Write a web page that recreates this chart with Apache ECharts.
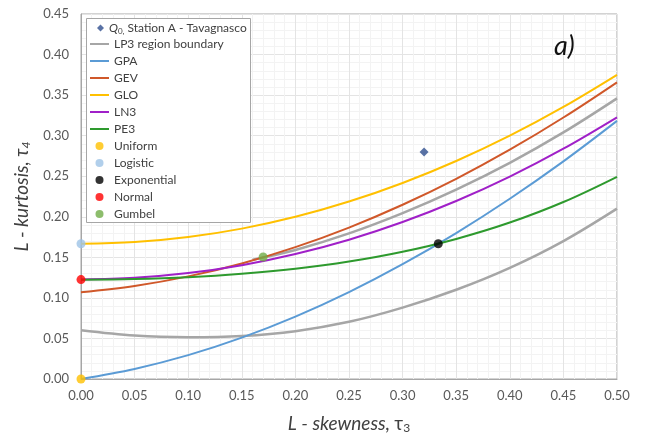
<!DOCTYPE html>
<html><head><meta charset="utf-8">
<script src="https://cdn.jsdelivr.net/npm/echarts@6/dist/echarts.min.js"></script>
<style>html,body{margin:0;padding:0;background:#fff}#c{width:646px;height:439px}</style>
</head><body><div id="c"></div>
<script>
// ---- data ----
const tau3 = [0, 0.05, 0.10, 0.15, 0.20, 0.25, 0.30, 0.35, 0.40, 0.45, 0.50];
const gpa = [0, 0.0124, 0.0294, 0.0510, 0.0769, 0.1071, 0.1415, 0.1799, 0.2222, 0.2683, 0.3182];
const gev = [0.1070, 0.1147, 0.1265, 0.1425, 0.1626, 0.1867, 0.2148, 0.2468, 0.2827, 0.3224, 0.3658];
const glo = [0.1667, 0.1688, 0.1750, 0.1854, 0.2000, 0.2188, 0.2417, 0.2688, 0.3000, 0.3354, 0.3750];
const ln3 = [0.1228, 0.1248, 0.1306, 0.1403, 0.1540, 0.1717, 0.1935, 0.2194, 0.2495, 0.2839, 0.3226];
const pe3 = [0.1224, 0.1232, 0.1255, 0.1297, 0.1359, 0.1448, 0.1569, 0.1727, 0.1929, 0.2182, 0.2493];
const lp3UpperX = [0.16, 0.20, 0.25, 0.30, 0.35, 0.40, 0.45, 0.50];
const lp3Upper = [0.1470, 0.1590, 0.1795, 0.2045, 0.2335, 0.2665, 0.3040, 0.3460];
const lp3Lower = [0.0600, 0.0535, 0.0515, 0.0530, 0.0590, 0.0705, 0.0880, 0.1100, 0.1370, 0.1700, 0.2100];
const station = [0.32, 0.28];
const uniform = [0, 0];
const logistic = [0, 0.1667];
const exponential = [0.3333, 0.1667];
const normal = [0, 0.1226];
const gumbel = [0.1699, 0.1504];
const xTicks = [0, 0.5, 0.05];
const yTicks = [0, 0.45, 0.05];
const legendNames = ['LP3 region boundary', 'GPA', 'GEV', 'GLO', 'LN3', 'PE3', 'Uniform', 'Logistic', 'Exponential', 'Normal', 'Gumbel'];
const lineNames = ['LP3 region boundary', 'GPA', 'GEV', 'GLO', 'LN3', 'PE3'];

const zip = (xs, ys) => xs.map((x, i) => [x, ys[i]]);
const FONT = 'Lato';
const LINE_ICON = 'path://M0,0 L22,0 L22,2.3 L0,2.3 Z';
const TXT = '#404040';

function line(name, xs, ys, color, w) {
  return { name, type: 'line', data: zip(xs, ys), smooth: 0.35, symbol: 'none',
    lineStyle: { color, width: w || 2 }, itemStyle: { color }, z: 2 };
}
function pt(name, p, color, sym, size) {
  return { name, type: 'scatter', data: [p], symbol: sym || 'circle', symbolSize: size || 9,
    itemStyle: { color }, z: 5 };
}

const legendText = { color: TXT, fontSize: 12, fontFamily: FONT, lineHeight: 14 };

const chart = echarts.init(document.getElementById('c'), null, { renderer: 'canvas' });
chart.setOption({
  animation: false,
  textStyle: { fontFamily: FONT },
  grid: { left: 81, right: 29, top: 14, bottom: 59, show: true, borderColor: '#a6a6a6', borderWidth: 1, backgroundColor: 'transparent' },
  xAxis: {
    type: 'value', min: xTicks[0], max: xTicks[1], interval: xTicks[2],
    axisLine: { show: true, lineStyle: { color: '#a6a6a6' } }, axisTick: { show: false },
    axisLabel: { color: '#595959', fontSize: 13, margin: 10, formatter: v => v.toFixed(2) },
    splitLine: { show: true, lineStyle: { color: '#e4e4e4' } },
    minorTick: { show: false, splitNumber: 5 },
    minorSplitLine: { show: true, lineStyle: { color: '#f3f3f3' } },
    name: '{i|L - skewness, }{t|τ}{s|3}', nameLocation: 'middle', nameGap: 34,
    nameTextStyle: { rich: {
      i: { fontStyle: 'italic', fontSize: 19, color: TXT, fontFamily: FONT },
      t: { fontSize: 19, color: TXT, fontFamily: FONT },
      s: { fontSize: 12, color: TXT, fontFamily: FONT, verticalAlign: 'bottom', padding: [9, 0, 0, 0] } } }
  },
  yAxis: {
    type: 'value', min: yTicks[0], max: yTicks[1], interval: yTicks[2],
    axisLine: { show: true, lineStyle: { color: '#a6a6a6' } }, axisTick: { show: false },
    axisLabel: { color: '#595959', fontSize: 13, margin: 12, formatter: v => v.toFixed(2) },
    splitLine: { show: true, lineStyle: { color: '#e4e4e4' } },
    minorTick: { show: false, splitNumber: 5 },
    minorSplitLine: { show: true, lineStyle: { color: '#f3f3f3' } },
    name: '{i|L - kurtosis, τ}{s|4}', nameLocation: 'middle', nameGap: 42, nameRotate: 90,
    nameTextStyle: { rich: {
      i: { fontStyle: 'italic', fontSize: 19, color: TXT, fontFamily: FONT },
      s: { fontStyle: 'italic', fontSize: 12, color: TXT, fontFamily: FONT, verticalAlign: 'bottom', padding: [9, 0, 0, 0] } } }
  },
  legend: [
    {
      orient: 'vertical', left: 97, top: 21, itemWidth: 7, itemHeight: 7, padding: 0,
      textStyle: Object.assign({}, legendText, { rich: {
        q: { fontStyle: 'italic', fontSize: 12, color: TXT, fontFamily: FONT },
        sub: { fontSize: 8, color: TXT, fontFamily: FONT, verticalAlign: 'bottom', padding: [6, 0, 0, 0] },
        n: { fontSize: 12, color: TXT, fontFamily: FONT } } }),
      formatter: () => '{q|Q}{sub|0,}{n| Station A - Tavagnasco}',
      data: [{ name: 'Q0 Station', icon: 'diamond' }]
    },
    {
      orient: 'vertical', left: 90, top: 37, itemGap: 3, itemWidth: 19, itemHeight: 8, padding: 0,
      textStyle: legendText,
      data: legendNames.map(n => ({ name: n, icon: lineNames.includes(n) ? LINE_ICON : 'circle' }))
    }
  ],
  graphic: [
    { type: 'rect', z: 3, shape: { x: 86.5, y: 18.5, width: 164, height: 204 },
      style: { fill: '#ffffff', stroke: '#a6a6a6', lineWidth: 1 } },
    { type: 'text', left: 554, top: 33, z: 3, style: { text: 'a)', font: 'italic 27px Lato', fill: '#111111' } }
  ],
  series: [
    pt('Q0 Station', station, '#2f4f8f', 'diamond', 9),
    line('LP3 region boundary', lp3UpperX, lp3Upper, '#a6a6a6', 2.5),
    line('LP3 region boundary', tau3, lp3Lower, '#a6a6a6', 2.5),
    line('GPA', tau3, gpa, '#5b9bd5'),
    line('GEV', tau3, gev, '#d0582a'),
    line('GLO', tau3, glo, '#ffc000'),
    line('LN3', tau3, ln3, '#a020c8'),
    line('PE3', tau3, pe3, '#2e9a2e'),
    pt('Uniform', uniform, '#ffc000'),
    pt('Logistic', logistic, '#9dc3e6'),
    pt('Exponential', exponential, '#000000'),
    pt('Normal', normal, '#ff0000'),
    pt('Gumbel', gumbel, '#70ad47')
  ]
});
</script></body></html>
